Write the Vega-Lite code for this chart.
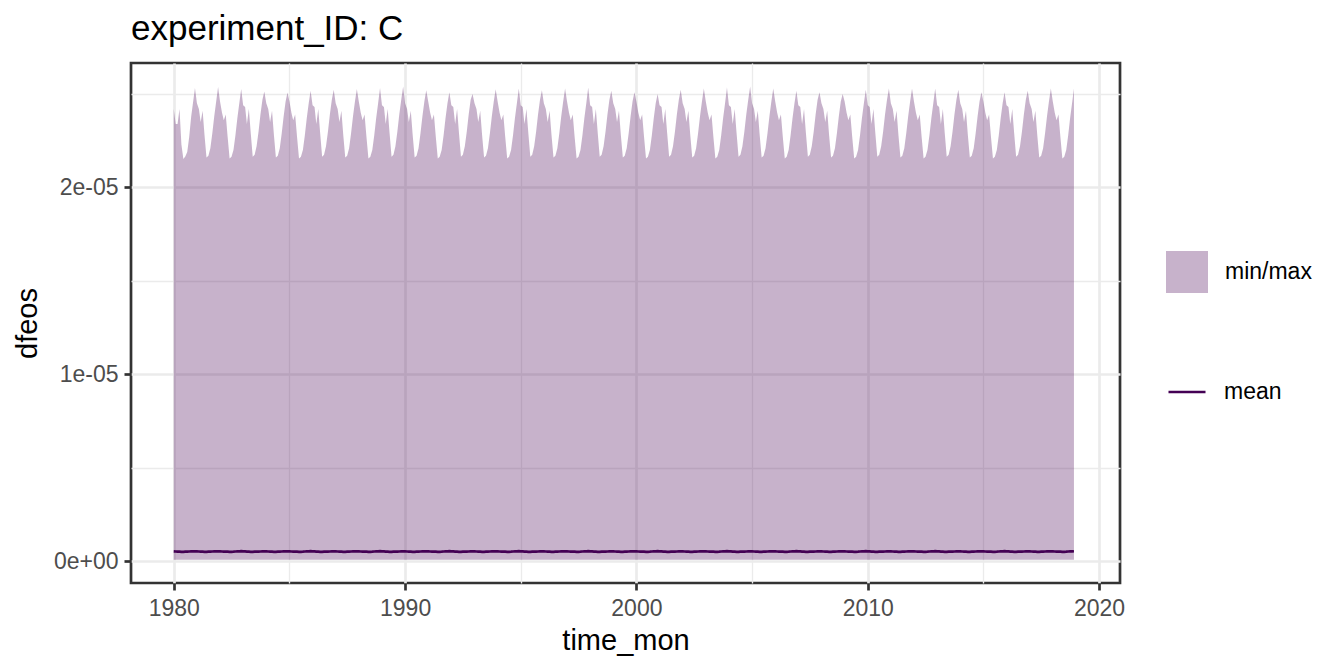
{
"$schema": "https://vega.github.io/schema/vega-lite/v6.json",
"width": 989, "height": 520,
"autosize": {"type": "none"},
"padding": {"left": 131, "top": 63, "right": 224, "bottom": 89},
"background": "white",
"title": {"text": "experiment_ID: C", "anchor": "start", "frame": "group", "fontSize": 35, "fontWeight": "normal", "font": "Liberation Sans", "color": "#000000", "baseline": "alphabetic", "offset": -12},
"data": {"values": [
{"t":"1980-01","lo":8e-8,"hi":2.42e-5,"m":5.3e-7},{"t":"1980-02","lo":8e-8,"hi":2.34e-5,"m":5.25e-7},{"t":"1980-03","lo":8e-8,"hi":2.34e-5,"m":5.2e-7},{"t":"1980-04","lo":8e-8,"hi":2.42e-5,"m":5.15e-7},{"t":"1980-05","lo":8e-8,"hi":2.23e-5,"m":5.1e-7},{"t":"1980-06","lo":8e-8,"hi":2.153e-5,"m":5.1e-7},{"t":"1980-07","lo":8e-8,"hi":2.166e-5,"m":5.15e-7},{"t":"1980-08","lo":8e-8,"hi":2.19e-5,"m":5.2e-7},{"t":"1980-09","lo":8e-8,"hi":2.27e-5,"m":5.25e-7},{"t":"1980-10","lo":8e-8,"hi":2.376e-5,"m":5.3e-7},{"t":"1980-11","lo":8e-8,"hi":2.456e-5,"m":5.35e-7},{"t":"1980-12","lo":8e-8,"hi":2.532e-5,"m":5.35e-7},
{"t":"1981-01","lo":8e-8,"hi":2.45e-5,"m":5.3e-7},{"t":"1981-02","lo":8e-8,"hi":2.42e-5,"m":5.25e-7},{"t":"1981-03","lo":8e-8,"hi":2.35e-5,"m":5.2e-7},{"t":"1981-04","lo":8e-8,"hi":2.41e-5,"m":5.15e-7},{"t":"1981-05","lo":8e-8,"hi":2.28e-5,"m":5.1e-7},{"t":"1981-06","lo":8e-8,"hi":2.16e-5,"m":5.1e-7},{"t":"1981-07","lo":8e-8,"hi":2.17e-5,"m":5.15e-7},{"t":"1981-08","lo":8e-8,"hi":2.21e-5,"m":5.2e-7},{"t":"1981-09","lo":8e-8,"hi":2.29e-5,"m":5.25e-7},{"t":"1981-10","lo":8e-8,"hi":2.38e-5,"m":5.3e-7},{"t":"1981-11","lo":8e-8,"hi":2.46e-5,"m":5.35e-7},{"t":"1981-12","lo":8e-8,"hi":2.537e-5,"m":5.35e-7},
{"t":"1982-01","lo":8e-8,"hi":2.46e-5,"m":5.35e-7},{"t":"1982-02","lo":8e-8,"hi":2.40e-5,"m":5.25e-7},{"t":"1982-03","lo":8e-8,"hi":2.36e-5,"m":5.2e-7},{"t":"1982-04","lo":8e-8,"hi":2.39e-5,"m":5.15e-7},{"t":"1982-05","lo":8e-8,"hi":2.27e-5,"m":5.15e-7},{"t":"1982-06","lo":8e-8,"hi":2.155e-5,"m":5.1e-7},{"t":"1982-07","lo":8e-8,"hi":2.165e-5,"m":5.1e-7},{"t":"1982-08","lo":8e-8,"hi":2.20e-5,"m":5.15e-7},{"t":"1982-09","lo":8e-8,"hi":2.28e-5,"m":5.25e-7},{"t":"1982-10","lo":8e-8,"hi":2.37e-5,"m":5.3e-7},{"t":"1982-11","lo":8e-8,"hi":2.45e-5,"m":5.3e-7},{"t":"1982-12","lo":8e-8,"hi":2.527e-5,"m":5.4e-7},
{"t":"1983-01","lo":8e-8,"hi":2.44e-5,"m":5.3e-7},{"t":"1983-02","lo":8e-8,"hi":2.43e-5,"m":5.3e-7},{"t":"1983-03","lo":8e-8,"hi":2.34e-5,"m":5.2e-7},{"t":"1983-04","lo":8e-8,"hi":2.42e-5,"m":5.15e-7},{"t":"1983-05","lo":8e-8,"hi":2.29e-5,"m":5.1e-7},{"t":"1983-06","lo":8e-8,"hi":2.165e-5,"m":5.05e-7},{"t":"1983-07","lo":8e-8,"hi":2.175e-5,"m":5.15e-7},{"t":"1983-08","lo":8e-8,"hi":2.22e-5,"m":5.2e-7},{"t":"1983-09","lo":8e-8,"hi":2.30e-5,"m":5.2e-7},{"t":"1983-10","lo":8e-8,"hi":2.39e-5,"m":5.25e-7},{"t":"1983-11","lo":8e-8,"hi":2.47e-5,"m":5.35e-7},{"t":"1983-12","lo":8e-8,"hi":2.514e-5,"m":5.35e-7},
{"t":"1984-01","lo":8e-8,"hi":2.45e-5,"m":5.3e-7},{"t":"1984-02","lo":8e-8,"hi":2.42e-5,"m":5.25e-7},{"t":"1984-03","lo":8e-8,"hi":2.35e-5,"m":5.2e-7},{"t":"1984-04","lo":8e-8,"hi":2.41e-5,"m":5.15e-7},{"t":"1984-05","lo":8e-8,"hi":2.28e-5,"m":5.1e-7},{"t":"1984-06","lo":8e-8,"hi":2.16e-5,"m":5.1e-7},{"t":"1984-07","lo":8e-8,"hi":2.17e-5,"m":5.15e-7},{"t":"1984-08","lo":8e-8,"hi":2.21e-5,"m":5.2e-7},{"t":"1984-09","lo":8e-8,"hi":2.29e-5,"m":5.25e-7},{"t":"1984-10","lo":8e-8,"hi":2.38e-5,"m":5.3e-7},{"t":"1984-11","lo":8e-8,"hi":2.46e-5,"m":5.35e-7},{"t":"1984-12","lo":8e-8,"hi":2.508e-5,"m":5.35e-7},
{"t":"1985-01","lo":8e-8,"hi":2.46e-5,"m":5.35e-7},{"t":"1985-02","lo":8e-8,"hi":2.40e-5,"m":5.25e-7},{"t":"1985-03","lo":8e-8,"hi":2.36e-5,"m":5.2e-7},{"t":"1985-04","lo":8e-8,"hi":2.39e-5,"m":5.15e-7},{"t":"1985-05","lo":8e-8,"hi":2.27e-5,"m":5.15e-7},{"t":"1985-06","lo":8e-8,"hi":2.155e-5,"m":5.1e-7},{"t":"1985-07","lo":8e-8,"hi":2.165e-5,"m":5.1e-7},{"t":"1985-08","lo":8e-8,"hi":2.20e-5,"m":5.15e-7},{"t":"1985-09","lo":8e-8,"hi":2.28e-5,"m":5.25e-7},{"t":"1985-10","lo":8e-8,"hi":2.37e-5,"m":5.3e-7},{"t":"1985-11","lo":8e-8,"hi":2.45e-5,"m":5.3e-7},{"t":"1985-12","lo":8e-8,"hi":2.517e-5,"m":5.4e-7},
{"t":"1986-01","lo":8e-8,"hi":2.44e-5,"m":5.3e-7},{"t":"1986-02","lo":8e-8,"hi":2.43e-5,"m":5.3e-7},{"t":"1986-03","lo":8e-8,"hi":2.34e-5,"m":5.2e-7},{"t":"1986-04","lo":8e-8,"hi":2.42e-5,"m":5.15e-7},{"t":"1986-05","lo":8e-8,"hi":2.29e-5,"m":5.1e-7},{"t":"1986-06","lo":8e-8,"hi":2.165e-5,"m":5.05e-7},{"t":"1986-07","lo":8e-8,"hi":2.175e-5,"m":5.15e-7},{"t":"1986-08","lo":8e-8,"hi":2.22e-5,"m":5.2e-7},{"t":"1986-09","lo":8e-8,"hi":2.30e-5,"m":5.2e-7},{"t":"1986-10","lo":8e-8,"hi":2.39e-5,"m":5.25e-7},{"t":"1986-11","lo":8e-8,"hi":2.47e-5,"m":5.35e-7},{"t":"1986-12","lo":8e-8,"hi":2.523e-5,"m":5.35e-7},
{"t":"1987-01","lo":8e-8,"hi":2.45e-5,"m":5.3e-7},{"t":"1987-02","lo":8e-8,"hi":2.42e-5,"m":5.25e-7},{"t":"1987-03","lo":8e-8,"hi":2.35e-5,"m":5.2e-7},{"t":"1987-04","lo":8e-8,"hi":2.41e-5,"m":5.15e-7},{"t":"1987-05","lo":8e-8,"hi":2.28e-5,"m":5.1e-7},{"t":"1987-06","lo":8e-8,"hi":2.16e-5,"m":5.1e-7},{"t":"1987-07","lo":8e-8,"hi":2.17e-5,"m":5.15e-7},{"t":"1987-08","lo":8e-8,"hi":2.21e-5,"m":5.2e-7},{"t":"1987-09","lo":8e-8,"hi":2.29e-5,"m":5.25e-7},{"t":"1987-10","lo":8e-8,"hi":2.38e-5,"m":5.3e-7},{"t":"1987-11","lo":8e-8,"hi":2.46e-5,"m":5.35e-7},{"t":"1987-12","lo":8e-8,"hi":2.527e-5,"m":5.35e-7},
{"t":"1988-01","lo":8e-8,"hi":2.46e-5,"m":5.35e-7},{"t":"1988-02","lo":8e-8,"hi":2.40e-5,"m":5.25e-7},{"t":"1988-03","lo":8e-8,"hi":2.36e-5,"m":5.2e-7},{"t":"1988-04","lo":8e-8,"hi":2.39e-5,"m":5.15e-7},{"t":"1988-05","lo":8e-8,"hi":2.27e-5,"m":5.15e-7},{"t":"1988-06","lo":8e-8,"hi":2.155e-5,"m":5.1e-7},{"t":"1988-07","lo":8e-8,"hi":2.165e-5,"m":5.1e-7},{"t":"1988-08","lo":8e-8,"hi":2.20e-5,"m":5.15e-7},{"t":"1988-09","lo":8e-8,"hi":2.28e-5,"m":5.25e-7},{"t":"1988-10","lo":8e-8,"hi":2.37e-5,"m":5.3e-7},{"t":"1988-11","lo":8e-8,"hi":2.45e-5,"m":5.3e-7},{"t":"1988-12","lo":8e-8,"hi":2.532e-5,"m":5.4e-7},
{"t":"1989-01","lo":8e-8,"hi":2.44e-5,"m":5.3e-7},{"t":"1989-02","lo":8e-8,"hi":2.43e-5,"m":5.3e-7},{"t":"1989-03","lo":8e-8,"hi":2.34e-5,"m":5.2e-7},{"t":"1989-04","lo":8e-8,"hi":2.42e-5,"m":5.15e-7},{"t":"1989-05","lo":8e-8,"hi":2.29e-5,"m":5.1e-7},{"t":"1989-06","lo":8e-8,"hi":2.165e-5,"m":5.05e-7},{"t":"1989-07","lo":8e-8,"hi":2.175e-5,"m":5.15e-7},{"t":"1989-08","lo":8e-8,"hi":2.22e-5,"m":5.2e-7},{"t":"1989-09","lo":8e-8,"hi":2.30e-5,"m":5.2e-7},{"t":"1989-10","lo":8e-8,"hi":2.39e-5,"m":5.25e-7},{"t":"1989-11","lo":8e-8,"hi":2.47e-5,"m":5.35e-7},{"t":"1989-12","lo":8e-8,"hi":2.54e-5,"m":5.35e-7},
{"t":"1990-01","lo":8e-8,"hi":2.45e-5,"m":5.3e-7},{"t":"1990-02","lo":8e-8,"hi":2.42e-5,"m":5.25e-7},{"t":"1990-03","lo":8e-8,"hi":2.35e-5,"m":5.2e-7},{"t":"1990-04","lo":8e-8,"hi":2.41e-5,"m":5.15e-7},{"t":"1990-05","lo":8e-8,"hi":2.28e-5,"m":5.1e-7},{"t":"1990-06","lo":8e-8,"hi":2.16e-5,"m":5.1e-7},{"t":"1990-07","lo":8e-8,"hi":2.17e-5,"m":5.15e-7},{"t":"1990-08","lo":8e-8,"hi":2.21e-5,"m":5.2e-7},{"t":"1990-09","lo":8e-8,"hi":2.29e-5,"m":5.25e-7},{"t":"1990-10","lo":8e-8,"hi":2.38e-5,"m":5.3e-7},{"t":"1990-11","lo":8e-8,"hi":2.46e-5,"m":5.35e-7},{"t":"1990-12","lo":8e-8,"hi":2.52e-5,"m":5.35e-7},
{"t":"1991-01","lo":8e-8,"hi":2.46e-5,"m":5.35e-7},{"t":"1991-02","lo":8e-8,"hi":2.40e-5,"m":5.25e-7},{"t":"1991-03","lo":8e-8,"hi":2.36e-5,"m":5.2e-7},{"t":"1991-04","lo":8e-8,"hi":2.39e-5,"m":5.15e-7},{"t":"1991-05","lo":8e-8,"hi":2.27e-5,"m":5.15e-7},{"t":"1991-06","lo":8e-8,"hi":2.155e-5,"m":5.1e-7},{"t":"1991-07","lo":8e-8,"hi":2.165e-5,"m":5.1e-7},{"t":"1991-08","lo":8e-8,"hi":2.20e-5,"m":5.15e-7},{"t":"1991-09","lo":8e-8,"hi":2.28e-5,"m":5.25e-7},{"t":"1991-10","lo":8e-8,"hi":2.37e-5,"m":5.3e-7},{"t":"1991-11","lo":8e-8,"hi":2.45e-5,"m":5.3e-7},{"t":"1991-12","lo":8e-8,"hi":2.51e-5,"m":5.4e-7},
{"t":"1992-01","lo":8e-8,"hi":2.44e-5,"m":5.3e-7},{"t":"1992-02","lo":8e-8,"hi":2.43e-5,"m":5.3e-7},{"t":"1992-03","lo":8e-8,"hi":2.34e-5,"m":5.2e-7},{"t":"1992-04","lo":8e-8,"hi":2.42e-5,"m":5.15e-7},{"t":"1992-05","lo":8e-8,"hi":2.29e-5,"m":5.1e-7},{"t":"1992-06","lo":8e-8,"hi":2.165e-5,"m":5.05e-7},{"t":"1992-07","lo":8e-8,"hi":2.175e-5,"m":5.15e-7},{"t":"1992-08","lo":8e-8,"hi":2.22e-5,"m":5.2e-7},{"t":"1992-09","lo":8e-8,"hi":2.30e-5,"m":5.2e-7},{"t":"1992-10","lo":8e-8,"hi":2.39e-5,"m":5.25e-7},{"t":"1992-11","lo":8e-8,"hi":2.47e-5,"m":5.35e-7},{"t":"1992-12","lo":8e-8,"hi":2.50e-5,"m":5.35e-7},
{"t":"1993-01","lo":8e-8,"hi":2.45e-5,"m":5.3e-7},{"t":"1993-02","lo":8e-8,"hi":2.42e-5,"m":5.25e-7},{"t":"1993-03","lo":8e-8,"hi":2.35e-5,"m":5.2e-7},{"t":"1993-04","lo":8e-8,"hi":2.41e-5,"m":5.15e-7},{"t":"1993-05","lo":8e-8,"hi":2.28e-5,"m":5.1e-7},{"t":"1993-06","lo":8e-8,"hi":2.16e-5,"m":5.1e-7},{"t":"1993-07","lo":8e-8,"hi":2.17e-5,"m":5.15e-7},{"t":"1993-08","lo":8e-8,"hi":2.21e-5,"m":5.2e-7},{"t":"1993-09","lo":8e-8,"hi":2.29e-5,"m":5.25e-7},{"t":"1993-10","lo":8e-8,"hi":2.38e-5,"m":5.3e-7},{"t":"1993-11","lo":8e-8,"hi":2.46e-5,"m":5.35e-7},{"t":"1993-12","lo":8e-8,"hi":2.525e-5,"m":5.35e-7},
{"t":"1994-01","lo":8e-8,"hi":2.46e-5,"m":5.35e-7},{"t":"1994-02","lo":8e-8,"hi":2.40e-5,"m":5.25e-7},{"t":"1994-03","lo":8e-8,"hi":2.36e-5,"m":5.2e-7},{"t":"1994-04","lo":8e-8,"hi":2.39e-5,"m":5.15e-7},{"t":"1994-05","lo":8e-8,"hi":2.27e-5,"m":5.15e-7},{"t":"1994-06","lo":8e-8,"hi":2.155e-5,"m":5.1e-7},{"t":"1994-07","lo":8e-8,"hi":2.165e-5,"m":5.1e-7},{"t":"1994-08","lo":8e-8,"hi":2.20e-5,"m":5.15e-7},{"t":"1994-09","lo":8e-8,"hi":2.28e-5,"m":5.25e-7},{"t":"1994-10","lo":8e-8,"hi":2.37e-5,"m":5.3e-7},{"t":"1994-11","lo":8e-8,"hi":2.45e-5,"m":5.3e-7},{"t":"1994-12","lo":8e-8,"hi":2.53e-5,"m":5.4e-7},
{"t":"1995-01","lo":8e-8,"hi":2.44e-5,"m":5.3e-7},{"t":"1995-02","lo":8e-8,"hi":2.43e-5,"m":5.3e-7},{"t":"1995-03","lo":8e-8,"hi":2.34e-5,"m":5.2e-7},{"t":"1995-04","lo":8e-8,"hi":2.42e-5,"m":5.15e-7},{"t":"1995-05","lo":8e-8,"hi":2.29e-5,"m":5.1e-7},{"t":"1995-06","lo":8e-8,"hi":2.165e-5,"m":5.05e-7},{"t":"1995-07","lo":8e-8,"hi":2.175e-5,"m":5.15e-7},{"t":"1995-08","lo":8e-8,"hi":2.22e-5,"m":5.2e-7},{"t":"1995-09","lo":8e-8,"hi":2.30e-5,"m":5.2e-7},{"t":"1995-10","lo":8e-8,"hi":2.39e-5,"m":5.25e-7},{"t":"1995-11","lo":8e-8,"hi":2.47e-5,"m":5.35e-7},{"t":"1995-12","lo":8e-8,"hi":2.52e-5,"m":5.35e-7},
{"t":"1996-01","lo":8e-8,"hi":2.45e-5,"m":5.3e-7},{"t":"1996-02","lo":8e-8,"hi":2.42e-5,"m":5.25e-7},{"t":"1996-03","lo":8e-8,"hi":2.35e-5,"m":5.2e-7},{"t":"1996-04","lo":8e-8,"hi":2.41e-5,"m":5.15e-7},{"t":"1996-05","lo":8e-8,"hi":2.28e-5,"m":5.1e-7},{"t":"1996-06","lo":8e-8,"hi":2.16e-5,"m":5.1e-7},{"t":"1996-07","lo":8e-8,"hi":2.17e-5,"m":5.15e-7},{"t":"1996-08","lo":8e-8,"hi":2.21e-5,"m":5.2e-7},{"t":"1996-09","lo":8e-8,"hi":2.29e-5,"m":5.25e-7},{"t":"1996-10","lo":8e-8,"hi":2.38e-5,"m":5.3e-7},{"t":"1996-11","lo":8e-8,"hi":2.46e-5,"m":5.35e-7},{"t":"1996-12","lo":8e-8,"hi":2.53e-5,"m":5.35e-7},
{"t":"1997-01","lo":8e-8,"hi":2.46e-5,"m":5.35e-7},{"t":"1997-02","lo":8e-8,"hi":2.40e-5,"m":5.25e-7},{"t":"1997-03","lo":8e-8,"hi":2.36e-5,"m":5.2e-7},{"t":"1997-04","lo":8e-8,"hi":2.39e-5,"m":5.15e-7},{"t":"1997-05","lo":8e-8,"hi":2.27e-5,"m":5.15e-7},{"t":"1997-06","lo":8e-8,"hi":2.155e-5,"m":5.1e-7},{"t":"1997-07","lo":8e-8,"hi":2.165e-5,"m":5.1e-7},{"t":"1997-08","lo":8e-8,"hi":2.20e-5,"m":5.15e-7},{"t":"1997-09","lo":8e-8,"hi":2.28e-5,"m":5.25e-7},{"t":"1997-10","lo":8e-8,"hi":2.37e-5,"m":5.3e-7},{"t":"1997-11","lo":8e-8,"hi":2.45e-5,"m":5.3e-7},{"t":"1997-12","lo":8e-8,"hi":2.535e-5,"m":5.4e-7},
{"t":"1998-01","lo":8e-8,"hi":2.44e-5,"m":5.3e-7},{"t":"1998-02","lo":8e-8,"hi":2.43e-5,"m":5.3e-7},{"t":"1998-03","lo":8e-8,"hi":2.34e-5,"m":5.2e-7},{"t":"1998-04","lo":8e-8,"hi":2.42e-5,"m":5.15e-7},{"t":"1998-05","lo":8e-8,"hi":2.29e-5,"m":5.1e-7},{"t":"1998-06","lo":8e-8,"hi":2.165e-5,"m":5.05e-7},{"t":"1998-07","lo":8e-8,"hi":2.175e-5,"m":5.15e-7},{"t":"1998-08","lo":8e-8,"hi":2.22e-5,"m":5.2e-7},{"t":"1998-09","lo":8e-8,"hi":2.30e-5,"m":5.2e-7},{"t":"1998-10","lo":8e-8,"hi":2.39e-5,"m":5.25e-7},{"t":"1998-11","lo":8e-8,"hi":2.47e-5,"m":5.35e-7},{"t":"1998-12","lo":8e-8,"hi":2.517e-5,"m":5.35e-7},
{"t":"1999-01","lo":8e-8,"hi":2.45e-5,"m":5.3e-7},{"t":"1999-02","lo":8e-8,"hi":2.42e-5,"m":5.25e-7},{"t":"1999-03","lo":8e-8,"hi":2.35e-5,"m":5.2e-7},{"t":"1999-04","lo":8e-8,"hi":2.41e-5,"m":5.15e-7},{"t":"1999-05","lo":8e-8,"hi":2.28e-5,"m":5.1e-7},{"t":"1999-06","lo":8e-8,"hi":2.16e-5,"m":5.1e-7},{"t":"1999-07","lo":8e-8,"hi":2.17e-5,"m":5.15e-7},{"t":"1999-08","lo":8e-8,"hi":2.21e-5,"m":5.2e-7},{"t":"1999-09","lo":8e-8,"hi":2.29e-5,"m":5.25e-7},{"t":"1999-10","lo":8e-8,"hi":2.38e-5,"m":5.3e-7},{"t":"1999-11","lo":8e-8,"hi":2.46e-5,"m":5.35e-7},{"t":"1999-12","lo":8e-8,"hi":2.51e-5,"m":5.35e-7},
{"t":"2000-01","lo":8e-8,"hi":2.46e-5,"m":5.35e-7},{"t":"2000-02","lo":8e-8,"hi":2.40e-5,"m":5.25e-7},{"t":"2000-03","lo":8e-8,"hi":2.36e-5,"m":5.2e-7},{"t":"2000-04","lo":8e-8,"hi":2.39e-5,"m":5.15e-7},{"t":"2000-05","lo":8e-8,"hi":2.27e-5,"m":5.15e-7},{"t":"2000-06","lo":8e-8,"hi":2.155e-5,"m":5.1e-7},{"t":"2000-07","lo":8e-8,"hi":2.165e-5,"m":5.1e-7},{"t":"2000-08","lo":8e-8,"hi":2.20e-5,"m":5.15e-7},{"t":"2000-09","lo":8e-8,"hi":2.28e-5,"m":5.25e-7},{"t":"2000-10","lo":8e-8,"hi":2.37e-5,"m":5.3e-7},{"t":"2000-11","lo":8e-8,"hi":2.45e-5,"m":5.3e-7},{"t":"2000-12","lo":8e-8,"hi":2.50e-5,"m":5.4e-7},
{"t":"2001-01","lo":8e-8,"hi":2.44e-5,"m":5.3e-7},{"t":"2001-02","lo":8e-8,"hi":2.43e-5,"m":5.3e-7},{"t":"2001-03","lo":8e-8,"hi":2.34e-5,"m":5.2e-7},{"t":"2001-04","lo":8e-8,"hi":2.42e-5,"m":5.15e-7},{"t":"2001-05","lo":8e-8,"hi":2.29e-5,"m":5.1e-7},{"t":"2001-06","lo":8e-8,"hi":2.165e-5,"m":5.05e-7},{"t":"2001-07","lo":8e-8,"hi":2.175e-5,"m":5.15e-7},{"t":"2001-08","lo":8e-8,"hi":2.22e-5,"m":5.2e-7},{"t":"2001-09","lo":8e-8,"hi":2.30e-5,"m":5.2e-7},{"t":"2001-10","lo":8e-8,"hi":2.39e-5,"m":5.25e-7},{"t":"2001-11","lo":8e-8,"hi":2.47e-5,"m":5.35e-7},{"t":"2001-12","lo":8e-8,"hi":2.523e-5,"m":5.35e-7},
{"t":"2002-01","lo":8e-8,"hi":2.45e-5,"m":5.3e-7},{"t":"2002-02","lo":8e-8,"hi":2.42e-5,"m":5.25e-7},{"t":"2002-03","lo":8e-8,"hi":2.35e-5,"m":5.2e-7},{"t":"2002-04","lo":8e-8,"hi":2.41e-5,"m":5.15e-7},{"t":"2002-05","lo":8e-8,"hi":2.28e-5,"m":5.1e-7},{"t":"2002-06","lo":8e-8,"hi":2.16e-5,"m":5.1e-7},{"t":"2002-07","lo":8e-8,"hi":2.17e-5,"m":5.15e-7},{"t":"2002-08","lo":8e-8,"hi":2.21e-5,"m":5.2e-7},{"t":"2002-09","lo":8e-8,"hi":2.29e-5,"m":5.25e-7},{"t":"2002-10","lo":8e-8,"hi":2.38e-5,"m":5.3e-7},{"t":"2002-11","lo":8e-8,"hi":2.46e-5,"m":5.35e-7},{"t":"2002-12","lo":8e-8,"hi":2.53e-5,"m":5.35e-7},
{"t":"2003-01","lo":8e-8,"hi":2.46e-5,"m":5.35e-7},{"t":"2003-02","lo":8e-8,"hi":2.40e-5,"m":5.25e-7},{"t":"2003-03","lo":8e-8,"hi":2.36e-5,"m":5.2e-7},{"t":"2003-04","lo":8e-8,"hi":2.39e-5,"m":5.15e-7},{"t":"2003-05","lo":8e-8,"hi":2.27e-5,"m":5.15e-7},{"t":"2003-06","lo":8e-8,"hi":2.155e-5,"m":5.1e-7},{"t":"2003-07","lo":8e-8,"hi":2.165e-5,"m":5.1e-7},{"t":"2003-08","lo":8e-8,"hi":2.20e-5,"m":5.15e-7},{"t":"2003-09","lo":8e-8,"hi":2.28e-5,"m":5.25e-7},{"t":"2003-10","lo":8e-8,"hi":2.37e-5,"m":5.3e-7},{"t":"2003-11","lo":8e-8,"hi":2.45e-5,"m":5.3e-7},{"t":"2003-12","lo":8e-8,"hi":2.535e-5,"m":5.4e-7},
{"t":"2004-01","lo":8e-8,"hi":2.44e-5,"m":5.3e-7},{"t":"2004-02","lo":8e-8,"hi":2.43e-5,"m":5.3e-7},{"t":"2004-03","lo":8e-8,"hi":2.34e-5,"m":5.2e-7},{"t":"2004-04","lo":8e-8,"hi":2.42e-5,"m":5.15e-7},{"t":"2004-05","lo":8e-8,"hi":2.29e-5,"m":5.1e-7},{"t":"2004-06","lo":8e-8,"hi":2.165e-5,"m":5.05e-7},{"t":"2004-07","lo":8e-8,"hi":2.175e-5,"m":5.15e-7},{"t":"2004-08","lo":8e-8,"hi":2.22e-5,"m":5.2e-7},{"t":"2004-09","lo":8e-8,"hi":2.30e-5,"m":5.2e-7},{"t":"2004-10","lo":8e-8,"hi":2.39e-5,"m":5.25e-7},{"t":"2004-11","lo":8e-8,"hi":2.47e-5,"m":5.35e-7},{"t":"2004-12","lo":8e-8,"hi":2.54e-5,"m":5.35e-7},
{"t":"2005-01","lo":8e-8,"hi":2.45e-5,"m":5.3e-7},{"t":"2005-02","lo":8e-8,"hi":2.42e-5,"m":5.25e-7},{"t":"2005-03","lo":8e-8,"hi":2.35e-5,"m":5.2e-7},{"t":"2005-04","lo":8e-8,"hi":2.41e-5,"m":5.15e-7},{"t":"2005-05","lo":8e-8,"hi":2.28e-5,"m":5.1e-7},{"t":"2005-06","lo":8e-8,"hi":2.16e-5,"m":5.1e-7},{"t":"2005-07","lo":8e-8,"hi":2.17e-5,"m":5.15e-7},{"t":"2005-08","lo":8e-8,"hi":2.21e-5,"m":5.2e-7},{"t":"2005-09","lo":8e-8,"hi":2.29e-5,"m":5.25e-7},{"t":"2005-10","lo":8e-8,"hi":2.38e-5,"m":5.3e-7},{"t":"2005-11","lo":8e-8,"hi":2.46e-5,"m":5.35e-7},{"t":"2005-12","lo":8e-8,"hi":2.53e-5,"m":5.35e-7},
{"t":"2006-01","lo":8e-8,"hi":2.46e-5,"m":5.35e-7},{"t":"2006-02","lo":8e-8,"hi":2.40e-5,"m":5.25e-7},{"t":"2006-03","lo":8e-8,"hi":2.36e-5,"m":5.2e-7},{"t":"2006-04","lo":8e-8,"hi":2.39e-5,"m":5.15e-7},{"t":"2006-05","lo":8e-8,"hi":2.27e-5,"m":5.15e-7},{"t":"2006-06","lo":8e-8,"hi":2.155e-5,"m":5.1e-7},{"t":"2006-07","lo":8e-8,"hi":2.165e-5,"m":5.1e-7},{"t":"2006-08","lo":8e-8,"hi":2.20e-5,"m":5.15e-7},{"t":"2006-09","lo":8e-8,"hi":2.28e-5,"m":5.25e-7},{"t":"2006-10","lo":8e-8,"hi":2.37e-5,"m":5.3e-7},{"t":"2006-11","lo":8e-8,"hi":2.45e-5,"m":5.3e-7},{"t":"2006-12","lo":8e-8,"hi":2.517e-5,"m":5.4e-7},
{"t":"2007-01","lo":8e-8,"hi":2.44e-5,"m":5.3e-7},{"t":"2007-02","lo":8e-8,"hi":2.43e-5,"m":5.3e-7},{"t":"2007-03","lo":8e-8,"hi":2.34e-5,"m":5.2e-7},{"t":"2007-04","lo":8e-8,"hi":2.42e-5,"m":5.15e-7},{"t":"2007-05","lo":8e-8,"hi":2.29e-5,"m":5.1e-7},{"t":"2007-06","lo":8e-8,"hi":2.165e-5,"m":5.05e-7},{"t":"2007-07","lo":8e-8,"hi":2.175e-5,"m":5.15e-7},{"t":"2007-08","lo":8e-8,"hi":2.22e-5,"m":5.2e-7},{"t":"2007-09","lo":8e-8,"hi":2.30e-5,"m":5.2e-7},{"t":"2007-10","lo":8e-8,"hi":2.39e-5,"m":5.25e-7},{"t":"2007-11","lo":8e-8,"hi":2.47e-5,"m":5.35e-7},{"t":"2007-12","lo":8e-8,"hi":2.51e-5,"m":5.35e-7},
{"t":"2008-01","lo":8e-8,"hi":2.45e-5,"m":5.3e-7},{"t":"2008-02","lo":8e-8,"hi":2.42e-5,"m":5.25e-7},{"t":"2008-03","lo":8e-8,"hi":2.35e-5,"m":5.2e-7},{"t":"2008-04","lo":8e-8,"hi":2.41e-5,"m":5.15e-7},{"t":"2008-05","lo":8e-8,"hi":2.28e-5,"m":5.1e-7},{"t":"2008-06","lo":8e-8,"hi":2.16e-5,"m":5.1e-7},{"t":"2008-07","lo":8e-8,"hi":2.17e-5,"m":5.15e-7},{"t":"2008-08","lo":8e-8,"hi":2.21e-5,"m":5.2e-7},{"t":"2008-09","lo":8e-8,"hi":2.29e-5,"m":5.25e-7},{"t":"2008-10","lo":8e-8,"hi":2.38e-5,"m":5.3e-7},{"t":"2008-11","lo":8e-8,"hi":2.46e-5,"m":5.35e-7},{"t":"2008-12","lo":8e-8,"hi":2.50e-5,"m":5.35e-7},
{"t":"2009-01","lo":8e-8,"hi":2.46e-5,"m":5.35e-7},{"t":"2009-02","lo":8e-8,"hi":2.40e-5,"m":5.25e-7},{"t":"2009-03","lo":8e-8,"hi":2.36e-5,"m":5.2e-7},{"t":"2009-04","lo":8e-8,"hi":2.39e-5,"m":5.15e-7},{"t":"2009-05","lo":8e-8,"hi":2.27e-5,"m":5.15e-7},{"t":"2009-06","lo":8e-8,"hi":2.155e-5,"m":5.1e-7},{"t":"2009-07","lo":8e-8,"hi":2.165e-5,"m":5.1e-7},{"t":"2009-08","lo":8e-8,"hi":2.20e-5,"m":5.15e-7},{"t":"2009-09","lo":8e-8,"hi":2.28e-5,"m":5.25e-7},{"t":"2009-10","lo":8e-8,"hi":2.37e-5,"m":5.3e-7},{"t":"2009-11","lo":8e-8,"hi":2.45e-5,"m":5.3e-7},{"t":"2009-12","lo":8e-8,"hi":2.523e-5,"m":5.4e-7},
{"t":"2010-01","lo":8e-8,"hi":2.44e-5,"m":5.3e-7},{"t":"2010-02","lo":8e-8,"hi":2.43e-5,"m":5.3e-7},{"t":"2010-03","lo":8e-8,"hi":2.34e-5,"m":5.2e-7},{"t":"2010-04","lo":8e-8,"hi":2.42e-5,"m":5.15e-7},{"t":"2010-05","lo":8e-8,"hi":2.29e-5,"m":5.1e-7},{"t":"2010-06","lo":8e-8,"hi":2.165e-5,"m":5.05e-7},{"t":"2010-07","lo":8e-8,"hi":2.175e-5,"m":5.15e-7},{"t":"2010-08","lo":8e-8,"hi":2.22e-5,"m":5.2e-7},{"t":"2010-09","lo":8e-8,"hi":2.30e-5,"m":5.2e-7},{"t":"2010-10","lo":8e-8,"hi":2.39e-5,"m":5.25e-7},{"t":"2010-11","lo":8e-8,"hi":2.47e-5,"m":5.35e-7},{"t":"2010-12","lo":8e-8,"hi":2.53e-5,"m":5.35e-7},
{"t":"2011-01","lo":8e-8,"hi":2.45e-5,"m":5.3e-7},{"t":"2011-02","lo":8e-8,"hi":2.42e-5,"m":5.25e-7},{"t":"2011-03","lo":8e-8,"hi":2.35e-5,"m":5.2e-7},{"t":"2011-04","lo":8e-8,"hi":2.41e-5,"m":5.15e-7},{"t":"2011-05","lo":8e-8,"hi":2.28e-5,"m":5.1e-7},{"t":"2011-06","lo":8e-8,"hi":2.16e-5,"m":5.1e-7},{"t":"2011-07","lo":8e-8,"hi":2.17e-5,"m":5.15e-7},{"t":"2011-08","lo":8e-8,"hi":2.21e-5,"m":5.2e-7},{"t":"2011-09","lo":8e-8,"hi":2.29e-5,"m":5.25e-7},{"t":"2011-10","lo":8e-8,"hi":2.38e-5,"m":5.3e-7},{"t":"2011-11","lo":8e-8,"hi":2.46e-5,"m":5.35e-7},{"t":"2011-12","lo":8e-8,"hi":2.53e-5,"m":5.35e-7},
{"t":"2012-01","lo":8e-8,"hi":2.46e-5,"m":5.35e-7},{"t":"2012-02","lo":8e-8,"hi":2.40e-5,"m":5.25e-7},{"t":"2012-03","lo":8e-8,"hi":2.36e-5,"m":5.2e-7},{"t":"2012-04","lo":8e-8,"hi":2.39e-5,"m":5.15e-7},{"t":"2012-05","lo":8e-8,"hi":2.27e-5,"m":5.15e-7},{"t":"2012-06","lo":8e-8,"hi":2.155e-5,"m":5.1e-7},{"t":"2012-07","lo":8e-8,"hi":2.165e-5,"m":5.1e-7},{"t":"2012-08","lo":8e-8,"hi":2.20e-5,"m":5.15e-7},{"t":"2012-09","lo":8e-8,"hi":2.28e-5,"m":5.25e-7},{"t":"2012-10","lo":8e-8,"hi":2.37e-5,"m":5.3e-7},{"t":"2012-11","lo":8e-8,"hi":2.45e-5,"m":5.3e-7},{"t":"2012-12","lo":8e-8,"hi":2.53e-5,"m":5.4e-7},
{"t":"2013-01","lo":8e-8,"hi":2.44e-5,"m":5.3e-7},{"t":"2013-02","lo":8e-8,"hi":2.43e-5,"m":5.3e-7},{"t":"2013-03","lo":8e-8,"hi":2.34e-5,"m":5.2e-7},{"t":"2013-04","lo":8e-8,"hi":2.42e-5,"m":5.15e-7},{"t":"2013-05","lo":8e-8,"hi":2.29e-5,"m":5.1e-7},{"t":"2013-06","lo":8e-8,"hi":2.165e-5,"m":5.05e-7},{"t":"2013-07","lo":8e-8,"hi":2.175e-5,"m":5.15e-7},{"t":"2013-08","lo":8e-8,"hi":2.22e-5,"m":5.2e-7},{"t":"2013-09","lo":8e-8,"hi":2.30e-5,"m":5.2e-7},{"t":"2013-10","lo":8e-8,"hi":2.39e-5,"m":5.25e-7},{"t":"2013-11","lo":8e-8,"hi":2.47e-5,"m":5.35e-7},{"t":"2013-12","lo":8e-8,"hi":2.523e-5,"m":5.35e-7},
{"t":"2014-01","lo":8e-8,"hi":2.45e-5,"m":5.3e-7},{"t":"2014-02","lo":8e-8,"hi":2.42e-5,"m":5.25e-7},{"t":"2014-03","lo":8e-8,"hi":2.35e-5,"m":5.2e-7},{"t":"2014-04","lo":8e-8,"hi":2.41e-5,"m":5.15e-7},{"t":"2014-05","lo":8e-8,"hi":2.28e-5,"m":5.1e-7},{"t":"2014-06","lo":8e-8,"hi":2.16e-5,"m":5.1e-7},{"t":"2014-07","lo":8e-8,"hi":2.17e-5,"m":5.15e-7},{"t":"2014-08","lo":8e-8,"hi":2.21e-5,"m":5.2e-7},{"t":"2014-09","lo":8e-8,"hi":2.29e-5,"m":5.25e-7},{"t":"2014-10","lo":8e-8,"hi":2.38e-5,"m":5.3e-7},{"t":"2014-11","lo":8e-8,"hi":2.46e-5,"m":5.35e-7},{"t":"2014-12","lo":8e-8,"hi":2.51e-5,"m":5.35e-7},
{"t":"2015-01","lo":8e-8,"hi":2.46e-5,"m":5.35e-7},{"t":"2015-02","lo":8e-8,"hi":2.40e-5,"m":5.25e-7},{"t":"2015-03","lo":8e-8,"hi":2.36e-5,"m":5.2e-7},{"t":"2015-04","lo":8e-8,"hi":2.39e-5,"m":5.15e-7},{"t":"2015-05","lo":8e-8,"hi":2.27e-5,"m":5.15e-7},{"t":"2015-06","lo":8e-8,"hi":2.155e-5,"m":5.1e-7},{"t":"2015-07","lo":8e-8,"hi":2.165e-5,"m":5.1e-7},{"t":"2015-08","lo":8e-8,"hi":2.20e-5,"m":5.15e-7},{"t":"2015-09","lo":8e-8,"hi":2.28e-5,"m":5.25e-7},{"t":"2015-10","lo":8e-8,"hi":2.37e-5,"m":5.3e-7},{"t":"2015-11","lo":8e-8,"hi":2.45e-5,"m":5.3e-7},{"t":"2015-12","lo":8e-8,"hi":2.51e-5,"m":5.4e-7},
{"t":"2016-01","lo":8e-8,"hi":2.44e-5,"m":5.3e-7},{"t":"2016-02","lo":8e-8,"hi":2.43e-5,"m":5.3e-7},{"t":"2016-03","lo":8e-8,"hi":2.34e-5,"m":5.2e-7},{"t":"2016-04","lo":8e-8,"hi":2.42e-5,"m":5.15e-7},{"t":"2016-05","lo":8e-8,"hi":2.29e-5,"m":5.1e-7},{"t":"2016-06","lo":8e-8,"hi":2.165e-5,"m":5.05e-7},{"t":"2016-07","lo":8e-8,"hi":2.175e-5,"m":5.15e-7},{"t":"2016-08","lo":8e-8,"hi":2.22e-5,"m":5.2e-7},{"t":"2016-09","lo":8e-8,"hi":2.30e-5,"m":5.2e-7},{"t":"2016-10","lo":8e-8,"hi":2.39e-5,"m":5.25e-7},{"t":"2016-11","lo":8e-8,"hi":2.47e-5,"m":5.35e-7},{"t":"2016-12","lo":8e-8,"hi":2.517e-5,"m":5.35e-7},
{"t":"2017-01","lo":8e-8,"hi":2.45e-5,"m":5.3e-7},{"t":"2017-02","lo":8e-8,"hi":2.42e-5,"m":5.25e-7},{"t":"2017-03","lo":8e-8,"hi":2.35e-5,"m":5.2e-7},{"t":"2017-04","lo":8e-8,"hi":2.41e-5,"m":5.15e-7},{"t":"2017-05","lo":8e-8,"hi":2.28e-5,"m":5.1e-7},{"t":"2017-06","lo":8e-8,"hi":2.16e-5,"m":5.1e-7},{"t":"2017-07","lo":8e-8,"hi":2.17e-5,"m":5.15e-7},{"t":"2017-08","lo":8e-8,"hi":2.21e-5,"m":5.2e-7},{"t":"2017-09","lo":8e-8,"hi":2.29e-5,"m":5.25e-7},{"t":"2017-10","lo":8e-8,"hi":2.38e-5,"m":5.3e-7},{"t":"2017-11","lo":8e-8,"hi":2.46e-5,"m":5.35e-7},{"t":"2017-12","lo":8e-8,"hi":2.53e-5,"m":5.35e-7},
{"t":"2018-01","lo":8e-8,"hi":2.46e-5,"m":5.35e-7},{"t":"2018-02","lo":8e-8,"hi":2.40e-5,"m":5.25e-7},{"t":"2018-03","lo":8e-8,"hi":2.36e-5,"m":5.2e-7},{"t":"2018-04","lo":8e-8,"hi":2.39e-5,"m":5.15e-7},{"t":"2018-05","lo":8e-8,"hi":2.27e-5,"m":5.15e-7},{"t":"2018-06","lo":8e-8,"hi":2.155e-5,"m":5.1e-7},{"t":"2018-07","lo":8e-8,"hi":2.165e-5,"m":5.1e-7},{"t":"2018-08","lo":8e-8,"hi":2.20e-5,"m":5.15e-7},{"t":"2018-09","lo":8e-8,"hi":2.28e-5,"m":5.25e-7},{"t":"2018-10","lo":8e-8,"hi":2.37e-5,"m":5.3e-7},{"t":"2018-11","lo":8e-8,"hi":2.45e-5,"m":5.3e-7},{"t":"2018-12","lo":8e-8,"hi":2.53e-5,"m":5.4e-7}
]},
"encoding": {
  "x": {"field": "t", "type": "temporal", "title": "time_mon",
    "scale": {"type": "utc", "domain": [{"year": 1978, "month": 2, "date": 25, "utc": true}, {"year": 2020, "month": 11, "date": 27, "utc": true}]},
    "axis": {
      "values": [{"year": 1980, "utc": true}, {"year": 1985, "utc": true}, {"year": 1990, "utc": true}, {"year": 1995, "utc": true}, {"year": 2000, "utc": true}, {"year": 2005, "utc": true}, {"year": 2010, "utc": true}, {"year": 2015, "utc": true}, {"year": 2020, "utc": true}],
      "labelExpr": "utcyear(datum.value) % 10 == 0 ? '' + utcyear(datum.value) : ''",
      "tickOpacity": {"condition": {"test": "utcyear(datum.value) % 10 != 0", "value": 0}, "value": 1},
      "gridWidth": {"condition": {"test": "utcyear(datum.value) % 10 != 0", "value": 1.35}, "value": 2.7}
    }
  }
},
"layer": [
  {
    "mark": {"type": "area", "opacity": 0.3, "interpolate": "linear"},
    "encoding": {
      "y": {"field": "hi", "type": "quantitative", "title": "dfeos",
        "scale": {"domain": [-1.16e-6, 2.666e-5], "nice": false, "zero": false},
        "axis": {
          "values": [0, 5e-6, 1e-5, 1.5e-5, 2e-5, 2.5e-5],
          "labelExpr": "datum.value == 0 ? '0e+00' : datum.value == 1e-5 ? '1e-05' : datum.value == 2e-5 ? '2e-05' : ''",
          "tickOpacity": {"condition": {"test": "datum.value != 0 && datum.value != 1e-5 && datum.value != 2e-5", "value": 0}, "value": 1},
          "gridWidth": {"condition": {"test": "datum.value != 0 && datum.value != 1e-5 && datum.value != 2e-5", "value": 1.35}, "value": 2.7}
        }
      },
      "y2": {"field": "lo"},
      "fill": {"datum": "min/max", "type": "nominal", "scale": {"range": ["#440154"]},
        "legend": {"title": null, "orient": "none", "legendX": 1035, "legendY": 188, "symbolType": "square", "symbolSize": 1764, "symbolOpacity": 0.3, "symbolStrokeWidth": 0, "labelOffset": 17}}
    }
  },
  {
    "mark": {"type": "line", "strokeWidth": 2.7},
    "encoding": {
      "y": {"field": "m", "type": "quantitative", "title": "dfeos"},
      "stroke": {"datum": "mean", "type": "nominal", "scale": {"range": ["#440154"]},
        "legend": {"title": null, "orient": "none", "legendX": 1036, "legendY": 309, "symbolType": "stroke", "symbolSize": 1369, "symbolStrokeWidth": 2.7, "labelOffset": 17}}
    }
  }
],
"config": {
  "font": "Liberation Sans",
  "axis": {"domain": false, "gridColor": "#EBEBEB", "tickColor": "#333333", "tickWidth": 2.7, "tickSize": 7, "labelColor": "#4D4D4D", "labelFontSize": 23, "labelFont": "Liberation Sans", "titleFont": "Liberation Sans", "titleFontSize": 29, "titleFontWeight": "normal", "titleColor": "#000000"},
  "axisX": {"labelPadding": 7, "titlePadding": 6},
  "axisY": {"labelPadding": 6, "titlePadding": 11},
  "view": {"stroke": "#333333", "strokeWidth": 2.7},
  "legend": {"labelFont": "Liberation Sans", "labelFontSize": 23, "labelColor": "#000000", "padding": 0}
}
}
